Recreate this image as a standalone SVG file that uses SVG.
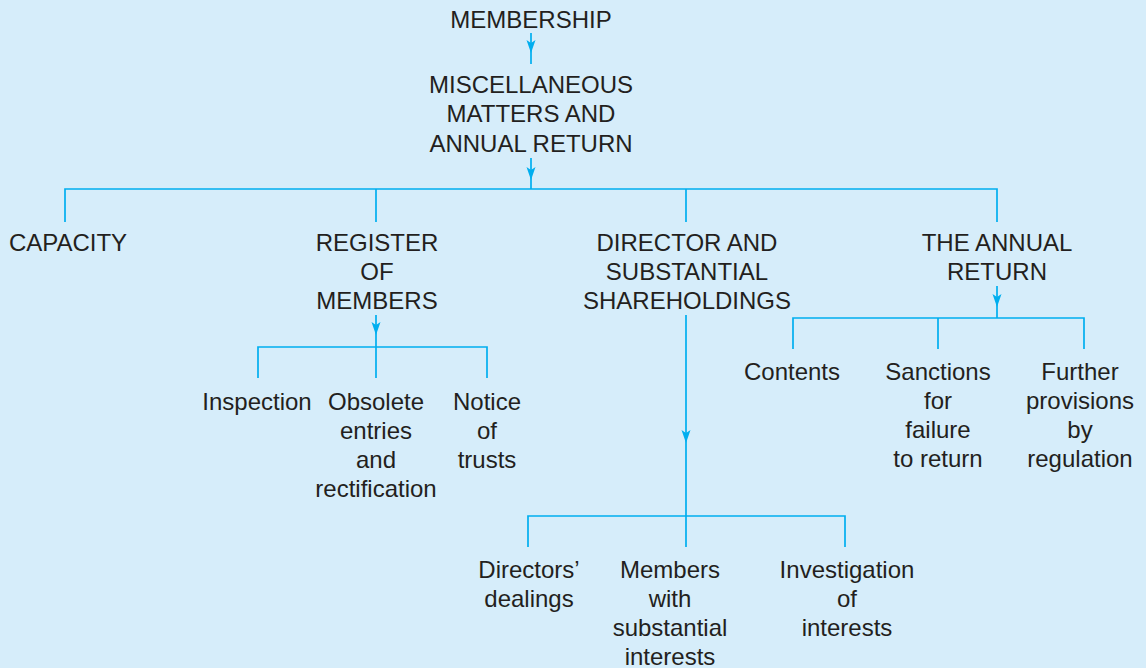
<svg xmlns="http://www.w3.org/2000/svg" width="1146" height="668" viewBox="0 0 1146 668">
  <defs>
    <style>
      .bg { fill: #d6edfa; }
      .t { font-family: "Liberation Sans", Arial, Helvetica, sans-serif; font-size: 24px; fill: #231f20; text-anchor: middle; }
      .c { fill: none; stroke: #00aeef; stroke-width: 1.7; }
    </style>
    <marker id="ah" markerUnits="userSpaceOnUse" markerWidth="16" markerHeight="12" viewBox="0 -6 16 12" refX="13" refY="0" orient="auto">
      <path d="M0,-4.5 L13,0 L0,4.5 L3,0 Z" fill="#00aeef"/>
    </marker>
  </defs>

  <rect class="bg" x="0" y="0" width="1146" height="668"/>

  <!-- connectors -->
  <g id="connectors">
    <!-- membership to miscellaneous -->
    <path class="c" d="M531,33 V53" marker-end="url(#ah)"/>
    <path class="c" d="M531,53 V64"/>
    <!-- miscellaneous to the four heads -->
    <path class="c" d="M531,158 V180" marker-end="url(#ah)"/>
    <path class="c" d="M531,180 V189"/>
    <path class="c" d="M65,222 V189 H997 V222 M376,189 V222 M686,189 V222"/>
    <!-- register of members -->
    <path class="c" d="M376,315 V335" marker-end="url(#ah)"/>
    <path class="c" d="M376,335 V378 M258,378 V347 H487 V378"/>
    <!-- the annual return -->
    <path class="c" d="M997,286 V307" marker-end="url(#ah)"/>
    <path class="c" d="M997,307 V318 M793,349 V318 H1084 V349 M938,318 V349"/>
    <!-- director and substantial shareholdings -->
    <path class="c" d="M686,315 V443" marker-end="url(#ah)"/>
    <path class="c" d="M686,443 V547 M528,547 V516 H845 V547"/>
  </g>

  <g id="membership">
    <text class="t" x="531" y="28">MEMBERSHIP</text>
  </g>

  <g id="miscellaneous">
    <text class="t" x="531" y="93">MISCELLANEOUS</text>
    <text class="t" x="531" y="122">MATTERS AND</text>
    <text class="t" x="531" y="152">ANNUAL RETURN</text>
  </g>

  <g id="capacity">
    <text class="t" x="68" y="251">CAPACITY</text>
  </g>

  <g id="register">
    <text class="t" x="377" y="251">REGISTER</text>
    <text class="t" x="377" y="280">OF</text>
    <text class="t" x="377" y="309">MEMBERS</text>
  </g>

  <g id="director">
    <text class="t" x="687" y="251">DIRECTOR AND</text>
    <text class="t" x="687" y="280">SUBSTANTIAL</text>
    <text class="t" x="687" y="309">SHAREHOLDINGS</text>
  </g>

  <g id="annual-return">
    <text class="t" x="997" y="251">THE ANNUAL</text>
    <text class="t" x="997" y="280">RETURN</text>
  </g>

  <g id="inspection">
    <text class="t" x="257" y="410">Inspection</text>
  </g>

  <g id="obsolete">
    <text class="t" x="376" y="410">Obsolete</text>
    <text class="t" x="376" y="439">entries</text>
    <text class="t" x="376" y="468">and</text>
    <text class="t" x="376" y="497">rectification</text>
  </g>

  <g id="notice">
    <text class="t" x="487" y="410">Notice</text>
    <text class="t" x="487" y="439">of</text>
    <text class="t" x="487" y="468">trusts</text>
  </g>

  <g id="contents">
    <text class="t" x="792" y="380">Contents</text>
  </g>

  <g id="sanctions">
    <text class="t" x="938" y="380">Sanctions</text>
    <text class="t" x="938" y="409">for</text>
    <text class="t" x="938" y="438">failure</text>
    <text class="t" x="938" y="467">to return</text>
  </g>

  <g id="further">
    <text class="t" x="1080" y="380">Further</text>
    <text class="t" x="1080" y="409">provisions</text>
    <text class="t" x="1080" y="438">by</text>
    <text class="t" x="1080" y="467">regulation</text>
  </g>

  <g id="directors-dealings">
    <text class="t" x="529" y="578">Directors’</text>
    <text class="t" x="529" y="607">dealings</text>
  </g>

  <g id="members-with">
    <text class="t" x="670" y="578">Members</text>
    <text class="t" x="670" y="607">with</text>
    <text class="t" x="670" y="636">substantial</text>
    <text class="t" x="670" y="665">interests</text>
  </g>

  <g id="investigation">
    <text class="t" x="847" y="578">Investigation</text>
    <text class="t" x="847" y="607">of</text>
    <text class="t" x="847" y="636">interests</text>
  </g>
</svg>
